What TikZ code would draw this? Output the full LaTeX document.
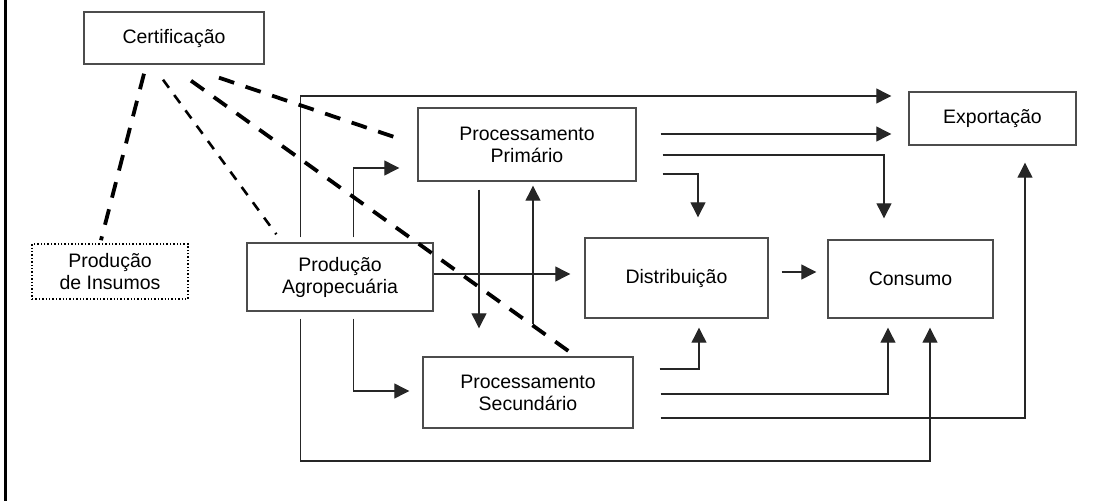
\documentclass[tikz,border=0pt]{standalone}
\usepackage{fontspec}
\setmainfont{Liberation Sans}
\usetikzlibrary{arrows.meta}
\begin{document}
\begin{tikzpicture}[x=1pt,y=-1pt,
  box/.style={draw=black!70, line width=1.4pt, fill=white, inner sep=0pt, align=center,
    font=\fontsize{19.5}{22}\selectfont, text=black},
  dotbox/.style={box, draw=black, dotted, line width=1.6pt},
  arr/.style={draw=black!85, line width=1.2pt, -{Triangle[length=15pt,width=15pt]}},
  thickdash/.style={draw=black, line width=3.8pt, dash pattern=on 16pt off 12pt},
  thindash/.style={draw=black, line width=2.6pt, dash pattern=on 10pt off 9pt}]
\useasboundingbox (0,0) rectangle (1093,501);
\draw[line width=3pt] (5.3,0) -- (5.3,501);
% nodes
\node[box, minimum width=180pt, minimum height=52pt] (cert) at (174,38) {Certificação};
\node[dotbox, minimum width=156pt, minimum height=55pt] (ins) at (110,271.5) {Produção\\de Insumos};
\node[box, minimum width=186pt, minimum height=68pt] (agro) at (340,277) {Produção\\Agropecuária};
\node[box, minimum width=218pt, minimum height=73pt] (prim) at (527,144.5) {Processamento\\Primário};
\node[box, minimum width=183pt, minimum height=80pt] (dist) at (676.5,278) {Distribuição};
\node[box, minimum width=210pt, minimum height=71pt] (sec) at (528,392.5) {Processamento\\Secundário};
\node[box, minimum width=165pt, minimum height=78pt] (cons) at (910.5,279) {Consumo};
\node[box, minimum width=167pt, minimum height=53pt] (exp) at (992.5,118.5) {Exportação};
\coordinate (bl) at (930,461);
% solid connectors
\draw[arr, shorten <=5pt, shorten >=17pt] ([xshift=54pt]agro.north west) |- ([yshift=22.5pt]exp.west);
\draw[arr, shorten <=5pt, shorten >=18pt] ([xshift=107pt]agro.north west) |- ([yshift=-23.5pt]prim.west);
\draw[arr, shorten >=14pt] ([yshift=3pt]agro.east) -- ([yshift=4pt]dist.west);
\draw[arr, shorten <=8pt, shorten >=28pt] ([xshift=-48pt]prim.south) -- ([xshift=-49pt]sec.north);
\draw[arr, shorten <=32pt, shorten >=4pt] ([xshift=5pt]sec.north) -- ([xshift=6pt]prim.south);
\draw[arr, shorten <=24pt, shorten >=17pt] ([yshift=10.5pt]prim.east) -- ([yshift=-15.5pt]exp.west);
\draw[arr, shorten <=26pt, shorten >=21pt] ([yshift=-10.5pt]prim.east) -| ([xshift=-26.5pt]cons.north);
\draw[arr, shorten <=26pt, shorten >=20pt] ([yshift=-29.5pt]prim.east) -| ([xshift=21.5pt]dist.north);
\draw[arr, shorten <=13pt, shorten >=11pt] ([yshift=6pt]dist.east) -- ([yshift=7pt]cons.west);
\draw[arr, shorten <=26pt, shorten >=9pt] ([yshift=23.5pt]sec.east) -| ([xshift=22.5pt]dist.south);
\draw[arr, shorten <=27pt, shorten >=9pt] ([yshift=-1.5pt]sec.east) -| ([xshift=-22.5pt]cons.south);
\draw[arr, shorten <=27pt, shorten >=17pt] ([yshift=-25.5pt]sec.east) -| ([xshift=32.5pt]exp.south);
\draw[arr, shorten <=7pt, shorten >=13pt] ([xshift=107pt]agro.south west) |- ([yshift=1.5pt]sec.west);
\draw[arr, shorten <=7pt, shorten >=9pt] ([xshift=54pt]agro.south west) |- (bl) -- ([xshift=19.5pt]cons.south);
% dashed connectors
\draw[thickdash] ([xshift=-30pt,yshift=-9pt]cert.south) -- ([xshift=-9pt,yshift=3pt]ins.north);
\draw[thindash] ([xshift=-11pt,yshift=-15pt]cert.south) -- ([xshift=30pt,yshift=8pt]agro.north west);
\draw[thickdash] ([xshift=17pt,yshift=-16pt]cert.south) -- ([xshift=45pt,yshift=2pt]sec.north);
\draw[thickdash] ([xshift=45pt,yshift=-13pt]cert.south) -- ([xshift=-23pt,yshift=7.5pt]prim.west);
\end{tikzpicture}
\end{document}
